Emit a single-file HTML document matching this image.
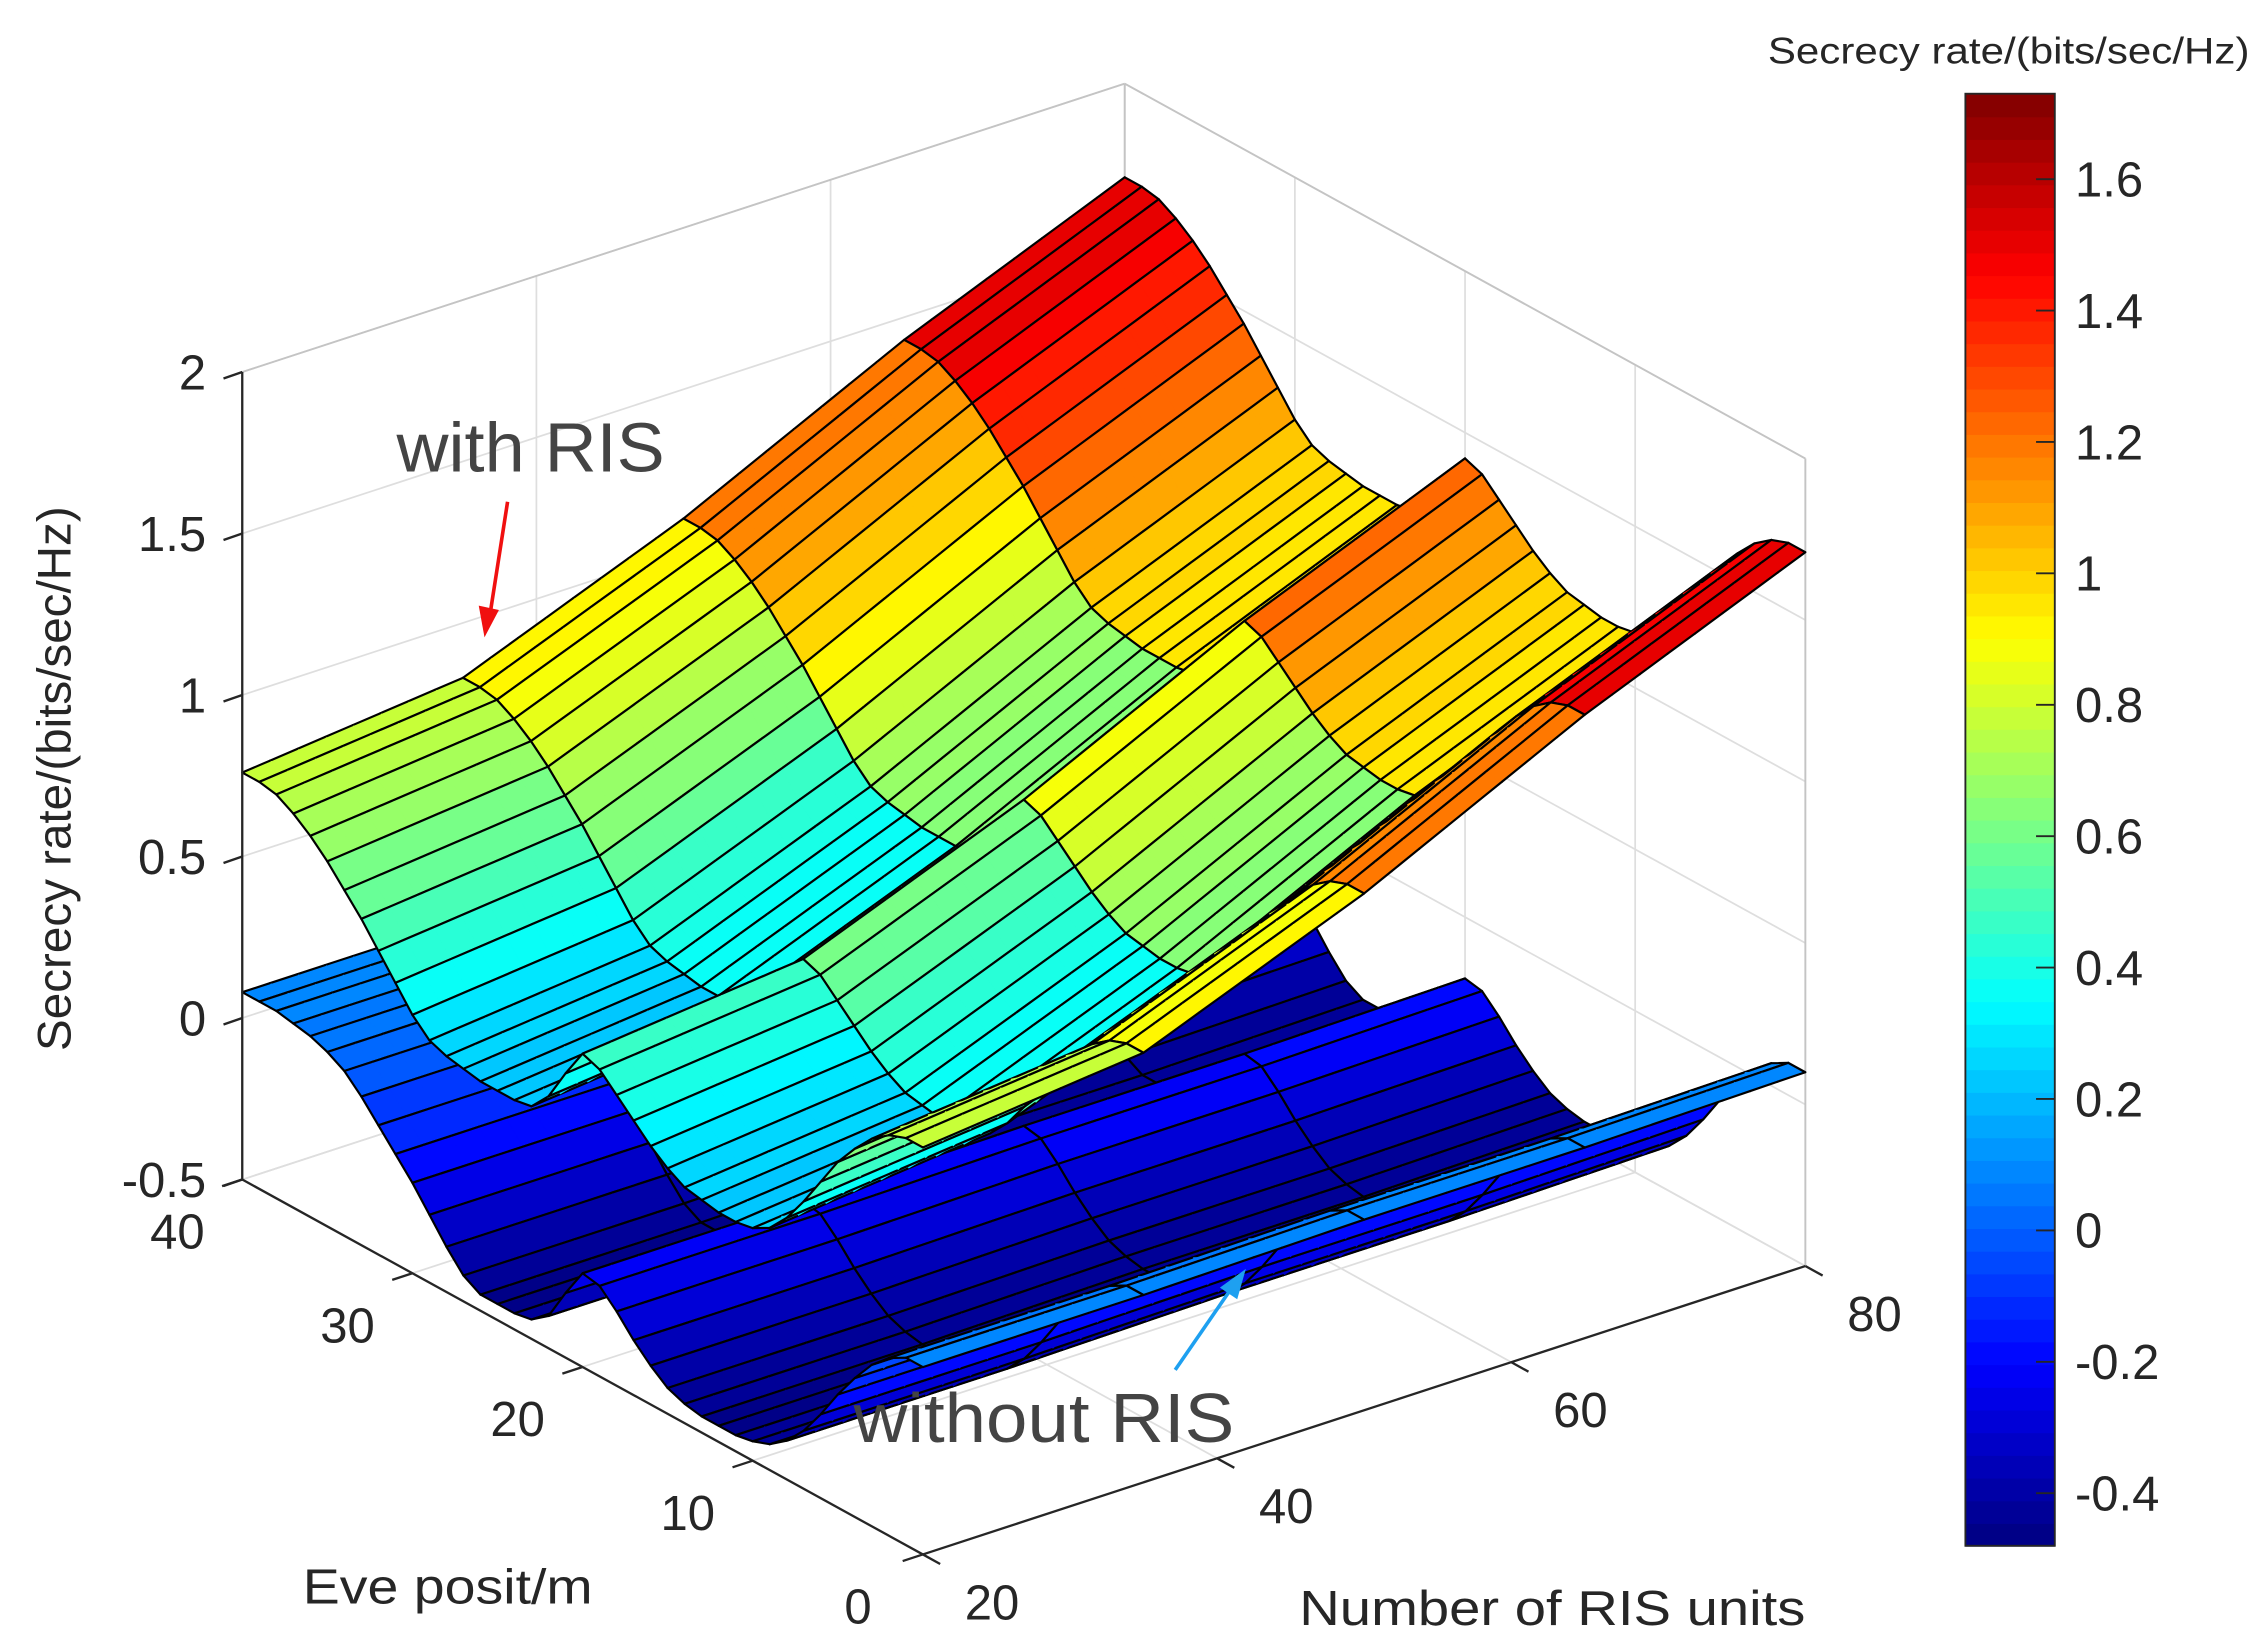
<!DOCTYPE html>
<html><head><meta charset="utf-8"><style>
html,body{margin:0;padding:0;background:#fff;}
svg{display:block;}
text{font-family:"Liberation Sans",Arial,sans-serif;fill:#262626;}
</style></head><body>
<svg id="chart" width="2261" height="1646" viewBox="0 0 1568 1141.5" xmlns="http://www.w3.org/2000/svg">
<rect x="0" y="0" width="1568" height="1141.5" fill="#fff"/>
<g id="walls"></g>
<g id="surf"></g>
<g id="axes"></g>
<g id="labels"></g>
<text x="0" y="0" font-size="33" text-anchor="middle" transform="translate(49,540) rotate(-90)">Secrecy rate/(bits/sec/Hz)</text>
<text x="210" y="1112" font-size="34" textLength="201" lengthAdjust="spacingAndGlyphs">Eve posit/m</text>
<text x="901" y="1127" font-size="34" textLength="351" lengthAdjust="spacingAndGlyphs">Number of RIS units</text>
<text x="275" y="327" font-size="48" style="fill:#444" textLength="186" lengthAdjust="spacingAndGlyphs">with RIS</text>
<text x="592" y="1000" font-size="48" style="fill:#444" textLength="264" lengthAdjust="spacingAndGlyphs">without RIS</text>
<g>
<line x1="352" y1="348" x2="340" y2="425" stroke="#f01010" stroke-width="2.5"/>
<polygon points="336,442 332,420 346,423" fill="#f01010"/>
</g>
<g>
<line x1="815" y1="950" x2="855" y2="892" stroke="#1ea0f0" stroke-width="2.5"/>
<polygon points="864,880 858,901 846,893" fill="#1ea0f0"/>
</g>
<g id="cbar"></g>
<text x="1226" y="44" font-size="26" textLength="334" lengthAdjust="spacingAndGlyphs">Secrecy rate/(bits/sec/Hz)</text>
</svg>
<script>
// ---- data ----
const eveGrid = [0,1,2,3,4,5,6,7,8,9,10,11,12,13,14,15,16,17,18,19,20,21,22,23,24,25,26,27,28,29,30,31,32,33,34,35,36,37,38,39,40];
const nGrid = [20,35,50,65,80];
const withRisEveProfile = [0.76,0.76,0.74,0.70,0.64,0.57,0.48,0.39,0.31,0.25,0.22,0.21,0.21,0.22,0.23,0.26,0.30,0.35,0.40,0.45,0.47,0.38,0.28,0.22,0.21,0.21,0.21,0.22,0.23,0.25,0.30,0.37,0.44,0.51,0.57,0.63,0.68,0.72,0.75,0.76,0.76];
const withRisNOffset = [0,0.07,0.34,0.67,0.95];
const withoutRisEveProfile = [0.08,0.08,0.05,0.0,-0.07,-0.15,-0.24,-0.32,-0.38,-0.42,-0.44,-0.45,-0.45,-0.45,-0.44,-0.42,-0.38,-0.33,-0.27,-0.22,-0.21,-0.30,-0.40,-0.44,-0.45,-0.45,-0.45,-0.42,-0.36,-0.29,-0.22,-0.16,-0.10,-0.04,0.01,0.04,0.06,0.07,0.08,0.08,0.08];
const withoutRisNOffset = [0,0,0.01,0.01,0.02];
const zTicks = [-0.5,0,0.5,1,1.5,2];
const zTickLabels = ["-0.5","0","0.5","1","1.5","2"];
const eveTicks = [0,10,20,30,40];
const nTicks = [20,40,60,80];
const cbarTicks = [-0.4,-0.2,0,0.2,0.4,0.6,0.8,1,1.2,1.4,1.6];
const cbarTickLabels = ["-0.4","-0.2","0","0.2","0.4","0.6","0.8","1","1.2","1.4","1.6"];
const cMin = -0.48, cMax = 1.73;

// ---- projection ----
const NS = "http://www.w3.org/2000/svg";
const X0 = 640, Y0 = 1078;
function P(E, N, z) {
  const u = E / 40, v = (N - 20) / 60, w = (z + 0.5) / 2.5;
  return [X0 - 472 * u + 612 * v, Y0 - 260 * u - 200 * v - 560 * w];
}
function depth(E, N, z) { return E / 40 + 0.771 * (N - 20) / 60 - 0.74 * (z + 0.5) / 2.5; }
function jet(t) {
  t = Math.max(0, Math.min(1, t));
  t = (Math.floor(t * 63.999) + 0.5) / 64;
  const c = x => Math.round(255 * Math.max(0, Math.min(1, x)));
  return `rgb(${c(1.5 - Math.abs(4 * t - 3))},${c(1.5 - Math.abs(4 * t - 2))},${c(1.5 - Math.abs(4 * t - 1))})`;
}
function colorOf(z) { return jet((z - cMin) / (cMax - cMin)); }
function el(tag, attrs, parent) {
  const e = document.createElementNS(NS, tag);
  for (const k in attrs) e.setAttribute(k, attrs[k]);
  parent.appendChild(e);
  return e;
}
const pt = a => a[0].toFixed(2) + "," + a[1].toFixed(2);

// ---- walls and grid ----
const walls = document.getElementById("walls");
const gridCol = "#dedede";
function gline(a, b, col, w) { el("line", {x1:a[0],y1:a[1],x2:b[0],y2:b[1],stroke:col,"stroke-width":w}, walls); }
zTicks.forEach(z => { gline(P(40,20,z), P(40,80,z), gridCol, 1.2); gline(P(40,80,z), P(0,80,z), gridCol, 1.2); });
nTicks.forEach(n => { gline(P(40,n,-0.5), P(40,n,2), gridCol, 1.2); gline(P(40,n,-0.5), P(0,n,-0.5), gridCol, 1.2); });
eveTicks.forEach(e => { gline(P(e,80,-0.5), P(e,80,2), gridCol, 1.2); gline(P(e,20,-0.5), P(e,80,-0.5), gridCol, 1.2); });
gline(P(40,20,2), P(40,80,2), "#c4c4c4", 1.3);
gline(P(40,80,2), P(0,80,2), "#c4c4c4", 1.3);
gline(P(40,80,-0.5), P(40,80,2), "#c4c4c4", 1.3);
gline(P(0,80,-0.5), P(0,80,2), "#c4c4c4", 1.3);

// ---- surfaces ----
const surf = document.getElementById("surf");
const SUB = 8;
const quads = [];
function buildSurface(profile, offsets, name) {
  for (let i = 0; i < eveGrid.length - 1; i++) {
    for (let j = 0; j < nGrid.length - 1; j++) {
      const E0 = eveGrid[i], E1 = eveGrid[i + 1];
      const z00 = profile[i] + offsets[j], z01 = profile[i] + offsets[j + 1];
      const z10 = profile[i + 1] + offsets[j], z11 = profile[i + 1] + offsets[j + 1];
      const col = colorOf(0.7 * (z00 + z10) / 2 + 0.3 * (z01 + z11) / 2);
      for (let s = 0; s < SUB; s++) {
        const f0 = s / SUB, f1 = (s + 1) / SUB;
        const Na = nGrid[j] + (nGrid[j + 1] - nGrid[j]) * f0;
        const Nb = nGrid[j] + (nGrid[j + 1] - nGrid[j]) * f1;
        const za0 = z00 + (z01 - z00) * f0, zb0 = z00 + (z01 - z00) * f1;
        const za1 = z10 + (z11 - z10) * f0, zb1 = z10 + (z11 - z10) * f1;
        const A = P(E0, Na, za0), B = P(E0, Nb, zb0), C = P(E1, Nb, zb1), D = P(E1, Na, za1);
        const d = depth((E0 + E1) / 2, (Na + Nb) / 2, (za0 + zb0 + za1 + zb1) / 4);
        quads.push({A, B, C, D, col, d, name, edgeA: s === 0, edgeB: s === SUB - 1});
      }
    }
  }
}
buildSurface(withRisEveProfile, withRisNOffset, "with-ris-facet");
buildSurface(withoutRisEveProfile, withoutRisNOffset, "without-ris-facet");
quads.sort((a, b) => b.d - a.d);
quads.forEach(q => {
  const g = document.createElementNS(NS, "g");
  
  
  surf.appendChild(g);
  el("polygon", {points: [q.A, q.B, q.C, q.D].map(pt).join(" "), fill: q.col, stroke: q.col, "stroke-width": 0.6}, g);
  let d = "M" + pt(q.A) + "L" + pt(q.B) + "M" + pt(q.D) + "L" + pt(q.C);
  if (q.edgeA) d += "M" + pt(q.A) + "L" + pt(q.D);
  if (q.edgeB) d += "M" + pt(q.B) + "L" + pt(q.C);
  el("path", {d, stroke: "#000", "stroke-width": 1.5, fill: "none", "stroke-linecap": "round"}, g);
});

// ---- axes lines & ticks ----
const axes = document.getElementById("axes");
function aline(a, b) { el("line", {x1:a[0],y1:a[1],x2:b[0],y2:b[1],stroke:"#262626","stroke-width":1.6}, axes); }
aline(P(40,20,-0.5), P(40,20,2));
aline(P(40,20,-0.5), P(0,20,-0.5));
aline(P(0,20,-0.5), P(0,80,-0.5));
zTicks.forEach(z => { const a = P(40,20,z); aline(a, [a[0]-13, a[1]+4.5]); });
eveTicks.forEach(e => { const a = P(e,20,-0.5); aline(a, [a[0]-14, a[1]+4.6]); });
nTicks.forEach(n => { const a = P(0,n,-0.5); aline(a, [a[0]+12, a[1]+6.6]); });

// ---- tick labels ----
const labels = document.getElementById("labels");
zTicks.forEach((z, i) => {
  const a = P(40,20,z);
  const t = el("text", {x: a[0]-25, y: a[1]+12, "font-size": 34, "text-anchor": "end"}, labels);
  
  
  t.textContent = zTickLabels[i];
});
eveTicks.forEach(e => {
  const a = P(e,20,-0.5);
  const t = el("text", {x: a[0]-45, y: a[1]+48, "font-size": 34, "text-anchor": "middle"}, labels);
  
  
  t.textContent = String(e);
});
nTicks.forEach(n => {
  const a = P(0,n,-0.5);
  const t = el("text", {x: a[0]+48, y: a[1]+45, "font-size": 34, "text-anchor": "middle"}, labels);
  
  
  t.textContent = String(n);
});

// ---- colorbar ----
const cbar = document.getElementById("cbar");
const cbX = 1363, cbW = 62, cbTop = 65, cbBot = 1072;
const cy = v => cbBot - (v - cMin) / (cMax - cMin) * (cbBot - cbTop);
for (let k = 0; k < 64; k++) {
  const y1 = cbBot - (k + 1) / 64 * (cbBot - cbTop), y0 = cbBot - k / 64 * (cbBot - cbTop);
  const r = el("rect", {x: cbX, y: y1, width: cbW, height: y0 - y1 + 0.6, fill: jet((k + 0.5) / 64)}, cbar);
  
  
}
el("rect", {x: cbX, y: cbTop, width: cbW, height: cbBot - cbTop, fill: "none", stroke: "#262626", "stroke-width": 1.3}, cbar);
cbarTicks.forEach((v, i) => {
  const y = cy(v);
  el("line", {x1: cbX + cbW - 13, y1: y, x2: cbX + cbW, y2: y, stroke: "#262626", "stroke-width": 1.3}, cbar);
  const t = el("text", {x: cbX + cbW + 14, y: y + 12, "font-size": 34}, cbar);
  
  
  t.textContent = cbarTickLabels[i];
});
</script>
</body></html>
